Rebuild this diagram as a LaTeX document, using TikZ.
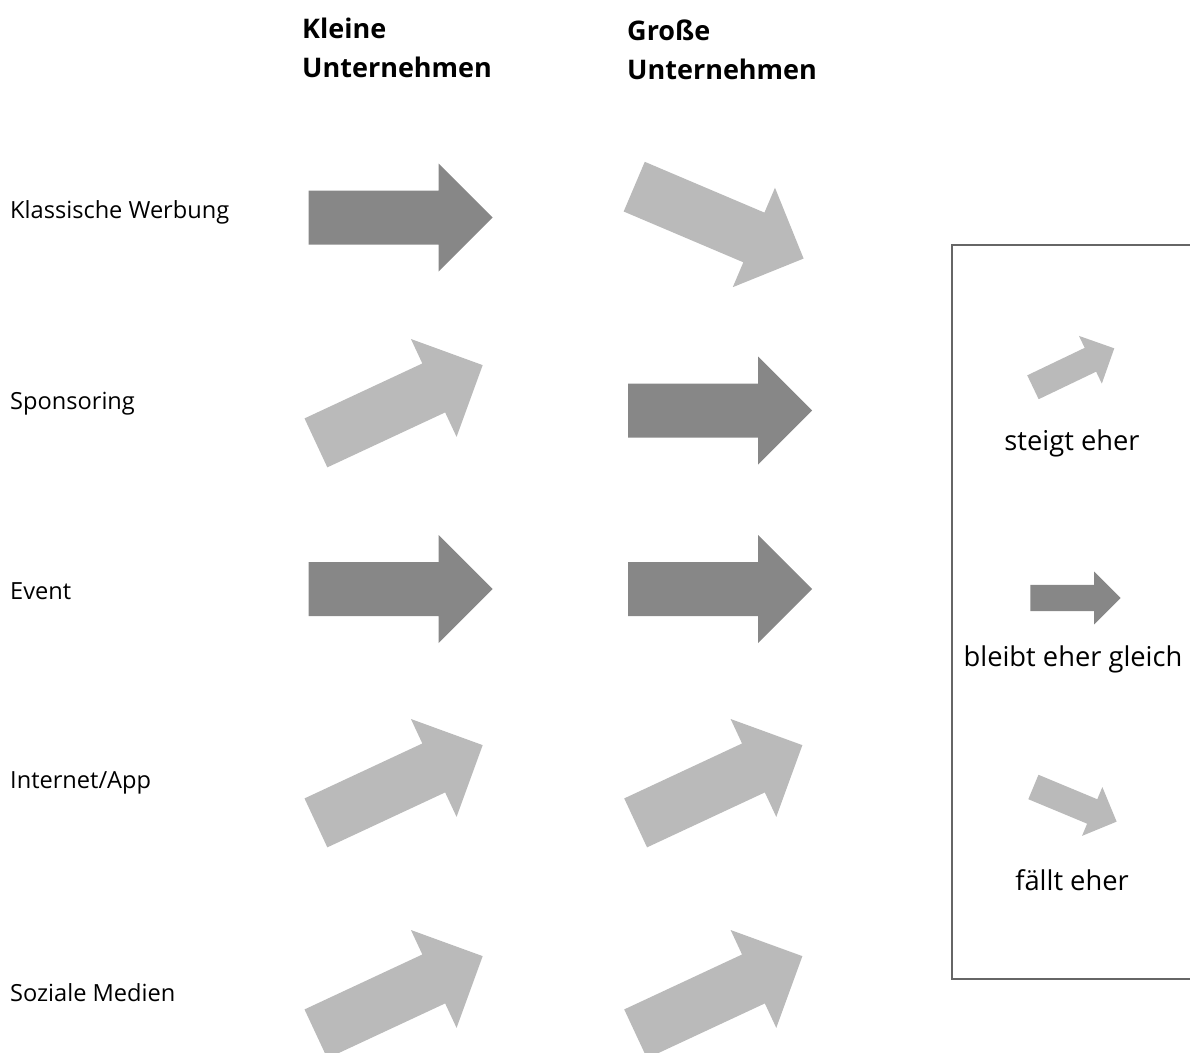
\documentclass[tikz,border=0pt]{standalone}
\usepackage{fontspec}
\setmainfont{Open Sans}
\definecolor{darkarrow}{HTML}{878787}
\definecolor{lightarrow}{HTML}{BABABA}
\definecolor{boxline}{HTML}{666666}
\tikzset{
  bigarrow/.pic={\fill[#1] (-92,-27) -- (38,-27) -- (38,-54) -- (92,0) -- (38,54) -- (38,27) -- (-92,27) -- cycle;},
  rowlabel/.style={anchor=west, inner sep=0pt, font=\fontsize{23.6}{27}\selectfont},
  head/.style={anchor=base west, inner sep=0pt, font=\fontsize{27}{32}\selectfont\bfseries},
  legtext/.style={anchor=center, inner sep=0pt, font=\fontsize{27.3}{32}\selectfont},
}
\begin{document}
\begin{tikzpicture}[x=1pt,y=-1pt]
\useasboundingbox (0,0) rectangle (1190,1052);
\clip (0,0) rectangle (1190,1052);
% headings
\node[head] (k1) at (302,38) {Kleine};
\node[head] (k2) at (302,77) {Unternehmen};
\node[head] (g1) at (627,40) {Große};
\node[head] (g2) at (627,79) {Unternehmen};
% row labels
\node[rowlabel] (l1) at (10,212) {Klassische Werbung};
\node[rowlabel] (l2) at (10,404) {Sponsoring};
\node[rowlabel] (l3) at (10,591) {Event};
\node[rowlabel] (l4) at (10,783) {Internet/App};
\node[rowlabel] (l5) at (10,993) {Soziale Medien};
% arrows, small companies
\pic at (400.6,217.5) {bigarrow=darkarrow};
\pic[rotate=25] at (399.3,404) {bigarrow=lightarrow};
\pic at (400.6,589) {bigarrow=darkarrow};
\pic[rotate=25] at (399.3,784) {bigarrow=lightarrow};
\pic[rotate=25] at (399.3,995) {bigarrow=lightarrow};
% arrows, large companies
\pic[rotate=-23] at (718.9,222.6) {bigarrow=lightarrow};
\pic at (720,410.5) {bigarrow=darkarrow};
\pic at (720,589) {bigarrow=darkarrow};
\pic[rotate=25] at (719,784) {bigarrow=lightarrow};
\pic[rotate=25] at (719,995) {bigarrow=lightarrow};
% legend
\draw[boxline, line width=1.5pt] (1200,245) -- (952,245) -- (952,979) -- (1200,979);
\pic[rotate=25.6, scale=0.49] at (1073.6,367.8) {bigarrow=lightarrow};
\pic[scale=0.49] at (1075.5,598) {bigarrow=darkarrow};
\pic[rotate=-22.6, scale=0.49] at (1075,804.3) {bigarrow=lightarrow};
\node[legtext] (s1) at (1072,443) {steigt eher};
\node[legtext] (s2) at (1073,659) {bleibt eher gleich};
\node[legtext] (s3) at (1072,880) {fällt eher};
\end{tikzpicture}
\end{document}
